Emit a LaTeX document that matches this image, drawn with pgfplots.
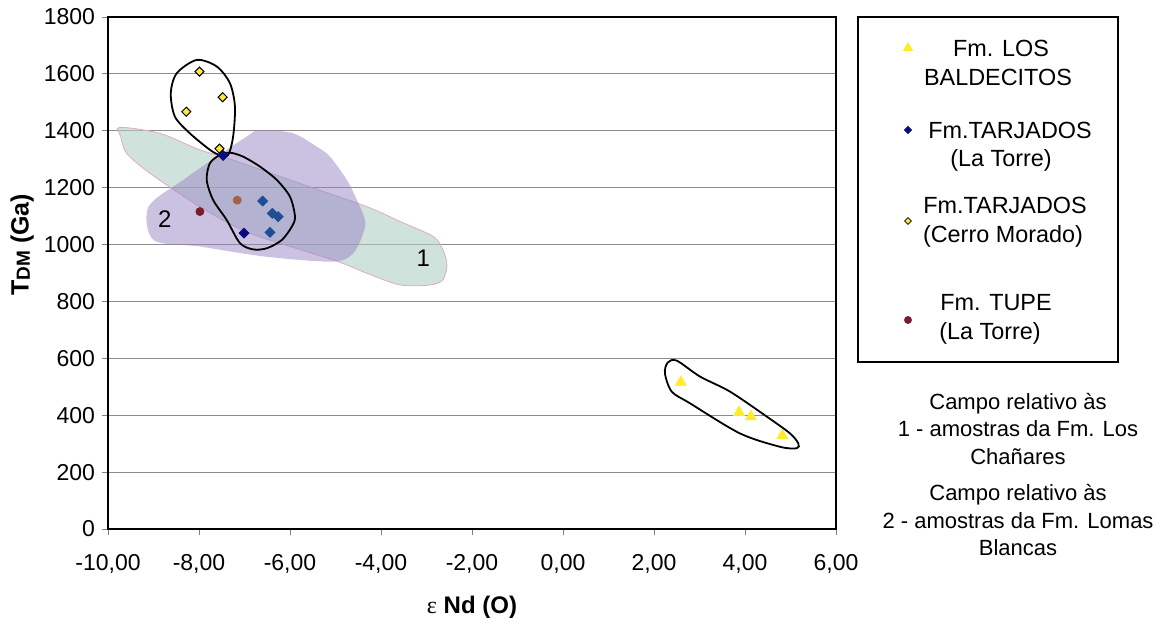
\documentclass[border=0pt]{standalone}
\usepackage{pgfplots}
\pgfplotsset{compat=1.18}
\usepackage{fontspec}
\setmainfont{Liberation Sans}
\newfontfamily\greekfont{Liberation Serif}

\definecolor{tealfill}{HTML}{B1CFC5}
\definecolor{tealedge}{HTML}{E2A8C8}
\definecolor{purplefill}{HTML}{9785C5}
\definecolor{navy}{HTML}{0A0A80}
\definecolor{midblue}{HTML}{1F4E96}
\definecolor{yeltri}{HTML}{FFEB2A}
\definecolor{yeldia}{HTML}{FFE83A}
\definecolor{tupered}{HTML}{7B1C2C}
\definecolor{tupebrown}{HTML}{A2614B}

\begin{document}
\begin{tikzpicture}
\useasboundingbox (-54pt,-46.5pt) rectangle (525.5pt,264.5pt);
\begin{axis}[
  at={(0pt,0pt)}, anchor=south west,
  scale only axis, width=364pt, height=256pt,
  xmin=-10, xmax=6, ymin=0, ymax=1800,
  xtick={-10,-8,...,6},
  xticklabels={{-10,00},{-8,00},{-6,00},{-4,00},{-2,00},{0,00},{2,00},{4,00},{6,00}},
  ytick={0,200,...,1800},
  yticklabels={0,200,400,600,800,1000,1200,1400,1600,1800},
  tick label style={font=\fontsize{11.5}{13}\selectfont},
  xticklabel style={yshift=-6pt},
  tick align=outside, xtick pos=bottom, ytick pos=left,
  major tick length=3pt,
  tick style={color=gray, line width=0.5pt},
  ymajorgrids, grid style={color=gray!90, line width=0.5pt},
  axis line style={line width=1.4pt},
  xlabel={{\greekfont ε}\ \textbf{Nd (O)}},
  ylabel={\textbf{T\raisebox{-0.1ex}{\fontsize{9.5}{9.5}\selectfont DM} (Ga)}},
  xlabel style={at={(rel axis cs:0.5,-0.152)}, anchor=center, font=\fontsize{12}{14}\selectfont},
  ylabel style={at={(rel axis cs:-0.118,0.555)}, anchor=center, font=\fontsize{12.5}{14}\selectfont},
]
% field 1 (Los Chanares)
\addplot[smooth cycle, draw=tealedge, line width=0.4pt, fill=tealfill, fill opacity=0.6]
  coordinates {(-9.74,1412) (-8.86,1391) (-7.98,1333) (-7.25,1297) (-5.78,1215) (-4.31,1133)
  (-3.58,1081) (-2.85,1028) (-2.64,981) (-2.55,928) (-2.64,876) (-2.92,858) (-3.58,858)
  (-4.31,899) (-5.05,946) (-6.88,1040) (-7.98,1133) (-9.08,1251) (-9.59,1321) (-9.72,1380)};
% field 2 (Lomas Blancas)
\addplot[smooth cycle, draw=none, fill=purplefill, fill opacity=0.5]
  coordinates {(-9.11,1133) (-9.00,1016) (-7.98,993) (-6.51,957) (-5.05,940) (-4.61,969)
  (-4.39,1040) (-4.35,1086) (-4.53,1157) (-4.75,1227) (-5.12,1309) (-5.41,1344) (-5.93,1391)
  (-6.66,1403) (-6.95,1380) (-7.61,1309) (-8.35,1227)};
% outlines
\addplot[smooth cycle, black, line width=0.9pt]
  coordinates {(-8.05,1649) (-8.49,1602) (-8.62,1532) (-8.53,1450) (-8.20,1391) (-7.76,1333)
  (-7.55,1315) (-7.36,1315) (-7.25,1380) (-7.21,1485) (-7.32,1567) (-7.61,1626)};
\addplot[smooth cycle, black, line width=0.9pt]
  coordinates {(-7.54,1315) (-7.76,1286) (-7.83,1227) (-7.69,1157) (-7.39,1086) (-7.10,1005)
  (-6.81,983) (-6.51,987) (-6.18,1016) (-5.96,1063) (-5.89,1098) (-6.00,1168) (-6.29,1227)
  (-6.66,1274) (-7.03,1309) (-7.32,1323)};
\addplot[smooth cycle, black, line width=0.9pt]
  coordinates {(2.30,585) (2.24,547) (2.39,483) (2.79,442) (3.89,336) (4.77,289) (5.14,284)
  (5.17,301) (4.99,336) (4.48,395) (3.67,483) (3.01,536) (2.50,592)};

% samples
\addplot[only marks, mark=triangle*, mark size=3.1pt, color=yeltri]
  coordinates {(2.59,516) (3.87,410) (4.13,395) (4.82,328)};
\addplot[only marks, mark=square*, mark size=1.75pt, mark options={rotate=45}, color=navy]
  coordinates {(-7.47,1313) (-7.01,1040)};
\addplot[only marks, mark=square*, mark size=1.75pt, mark options={rotate=45}, color=midblue]
  coordinates {(-6.60,1153) (-6.39,1110) (-6.26,1098) (-6.44,1043)};
\addplot[only marks, mark=square*, mark size=1.6pt, mark options={rotate=45, fill=yeldia, draw=black, line width=0.5pt}]
  coordinates {(-7.99,1608) (-7.48,1518) (-8.28,1467) (-7.55,1337)};
\addplot[only marks, mark=*, mark size=2pt, color=tupered]
  coordinates {(-7.98,1116)};
\addplot[only marks, mark=*, mark size=2pt, color=tupebrown]
  coordinates {(-7.16,1156)};

\node[font=\fontsize{12}{12}\selectfont] at (axis cs:-3.07,952) {1};
\node[font=\fontsize{12}{12}\selectfont] at (axis cs:-8.75,1090) {2};
\end{axis}

% legend box, drawn as a small axis in pixel-like units
\begin{axis}[
  at={(375pt,83.5pt)}, anchor=south west,
  scale only axis, width=130pt, height=172.5pt,
  xmin=0, xmax=260, ymin=0, ymax=345,
  xtick=\empty, ytick=\empty,
  axis line style={line width=0.7pt},
  clip=false,
]
\addplot[only marks, mark=triangle*, mark size=2.6pt, color=yeltri] coordinates {(50,314)};
\addplot[only marks, mark=square*, mark size=1.25pt, mark options={rotate=45}, color=navy] coordinates {(50,232)};
\addplot[only marks, mark=square*, mark size=1.2pt, mark options={rotate=45, fill=yeldia, draw=black, line width=0.4pt}] coordinates {(50,141)};
\addplot[only marks, mark=*, mark size=1.75pt, color=tupered] coordinates {(50,42)};
\begin{scope}[every node/.style={font=\fontsize{11.7}{14}\selectfont}]
\node at (axis cs:143,314) {Fm. LOS};
\node at (axis cs:140,285) {BALDECITOS};
\node at (axis cs:152,232) {Fm.TARJADOS};
\node at (axis cs:143,202) {(La Torre)};
\node at (axis cs:147,157) {Fm.TARJADOS};
\node at (axis cs:145,126) {(Cerro Morado)};
\node at (axis cs:138,59) {Fm. TUPE};
\node at (axis cs:132,29) {(La Torre)};
\end{scope}
\end{axis}

\node[align=center, font=\fontsize{11}{13.75}\selectfont] at (455pt,50pt)
  {Campo relativo às\\1 - amostras da Fm. Los\\Chañares};
\node[align=center, font=\fontsize{11}{13.75}\selectfont] at (455pt,4.5pt)
  {Campo relativo às\\2 - amostras da Fm. Lomas\\Blancas};
\end{tikzpicture}
\end{document}
